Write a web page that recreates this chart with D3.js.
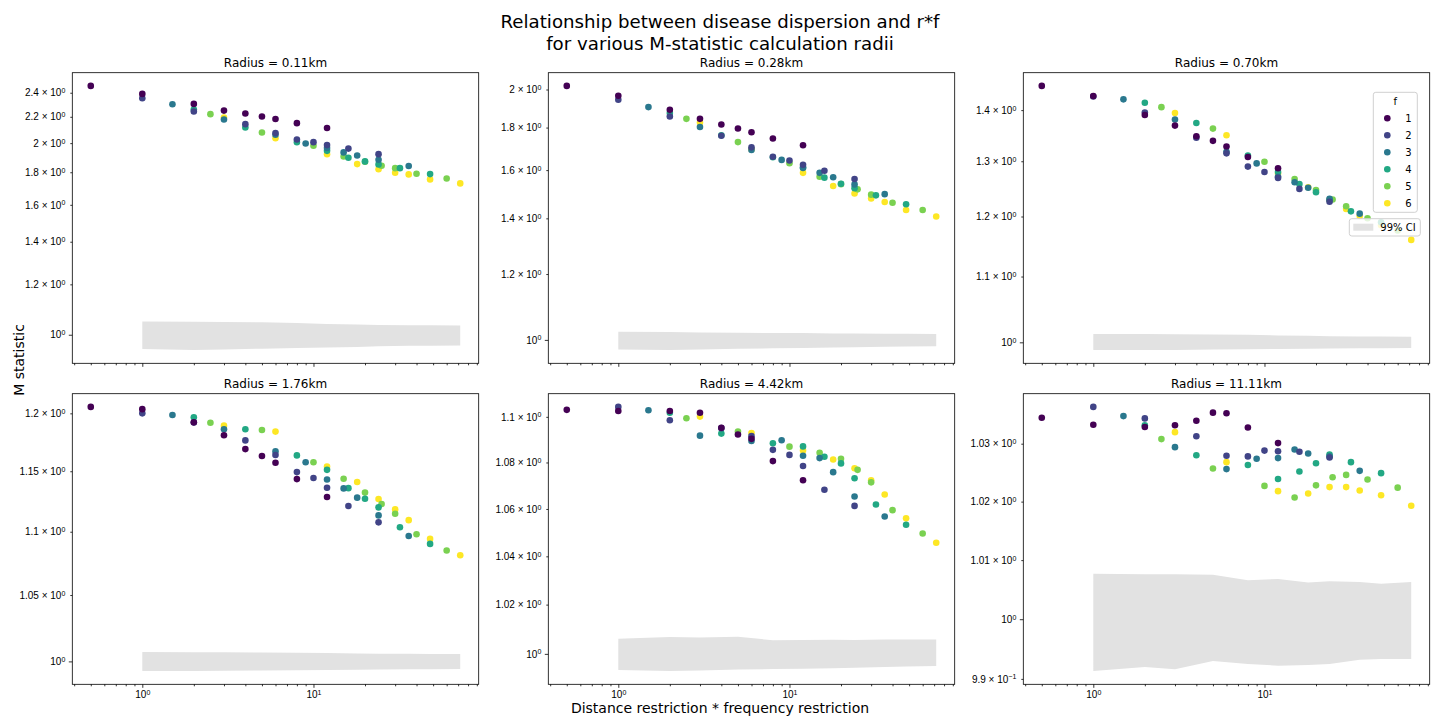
<!DOCTYPE html>
<html>
<head>
<meta charset="UTF-8">
<style>
body { margin: 0; background: #fff; }
svg { font-family: "DejaVu Sans", sans-serif; }
.tick text { font-size: 10px; fill: #000; }
.tick line { stroke: #000; stroke-width: 0.8; }
.domain { display: none; }
</style>
</head>
<body>
<svg width="1440" height="720"></svg>
<script src="https://d3js.org/d3.v7.min.js"></script>
<script>
// f (frequency restriction) and r (distance restriction) values, x = r*f
var fVals = [1, 2, 3, 4, 5, 6];
var rVals = [0.5, 1, 2, 3, 4, 5, 6, 8, 12];
var radii = ["0.11", "0.28", "0.70", "1.76", "4.42", "11.11"];

// M statistic, one row per f, one column per r
var m011 = [
    [2.46, 2.39, 2.305, 2.25, 2.226, 2.202, 2.182, 2.150, 2.113],
    [2.353, 2.242, 2.142, 2.074, 2.027, 2.007, 1.986, 1.961, 1.922],
    [2.302, 2.179, 2.062, 1.997, 1.965, 1.934, 1.913, 1.883, 1.841],
    [2.258, 2.116, 2.007, 1.945, 1.897, 1.872, 1.852, 1.827, 1.788],
    [2.221, 2.078, 1.981, 1.906, 1.87, 1.843, 1.827, 1.79, 1.760],
    [2.194, 2.036, 1.922, 1.854, 1.82, 1.797, 1.786, 1.754, 1.729]
];
var m028 = [
    [2.020, 1.966, 1.891, 1.844, 1.815, 1.795, 1.777, 1.746, 1.714],
    [1.944, 1.856, 1.760, 1.704, 1.660, 1.643, 1.624, 1.597, 1.561],
    [1.905, 1.803, 1.692, 1.646, 1.610, 1.588, 1.569, 1.538, 1.497],
    [1.874, 1.762, 1.658, 1.610, 1.567, 1.541, 1.522, 1.492, 1.456],
    [1.844, 1.729, 1.631, 1.571, 1.539, 1.517, 1.495, 1.462, 1.433],
    [1.825, 1.695, 1.588, 1.531, 1.500, 1.479, 1.465, 1.433, 1.407]
];
var m070 = [
    [1.450, 1.429, 1.390, 1.369, 1.348, 1.339, 1.328, 1.308, 1.287],
    [1.428, 1.395, 1.345, 1.315, 1.290, 1.280, 1.269, 1.249, 1.226],
    [1.422, 1.381, 1.318, 1.296, 1.271, 1.261, 1.251, 1.231, 1.205],
    [1.415, 1.374, 1.311, 1.280, 1.258, 1.243, 1.229, 1.209, 1.190],
    [1.406, 1.363, 1.299, 1.267, 1.247, 1.230, 1.218, 1.197, 1.176],
    [1.394, 1.350, 1.277, 1.252, 1.229, 1.213, 1.201, 1.185, 1.160]
];
var m176 = [
    [1.2057, 1.2037, 1.1921, 1.1809, 1.1689, 1.1630, 1.1572, 1.1434, 1.1285],
    [1.2000, 1.1920, 1.1764, 1.1638, 1.1493, 1.1443, 1.1362, 1.1210, 1.1076],
    [1.1985, 1.1860, 1.1669, 1.1577, 1.1431, 1.1356, 1.1279, 1.1133, 1.0966],
    [1.1965, 1.1860, 1.1635, 1.1512, 1.1358, 1.1270, 1.1199, 1.1036, 1.0902],
    [1.1918, 1.1854, 1.1577, 1.1437, 1.1321, 1.1227, 1.1146, 1.0980, 1.0849],
    [1.1892, 1.1840, 1.1540, 1.1409, 1.1268, 1.1182, 1.1094, 1.0942, 1.0812]
];
var m442 = [
    [1.1031, 1.1026, 1.1026, 1.1018, 1.0952, 1.0922, 1.0903, 1.0806, 1.0723],
    [1.1044, 1.0985, 1.0950, 1.0915, 1.0855, 1.0833, 1.0785, 1.0682, 1.0613],
    [1.1029, 1.0917, 1.0894, 1.0897, 1.0829, 1.0819, 1.0758, 1.0653, 1.0568],
    [1.1018, 1.0926, 1.0884, 1.0870, 1.0825, 1.0796, 1.0732, 1.0619, 1.0533],
    [1.0994, 1.0935, 1.0869, 1.0842, 1.0816, 1.0768, 1.0714, 1.0595, 1.0496],
    [1.1001, 1.0929, 1.0852, 1.0813, 1.0775, 1.0723, 1.0662, 1.0560, 1.0457]
];
var m1111 = [
    [1.0345, 1.0333, 1.0329, 1.0332, 1.0340, 1.0354, 1.0353, 1.0328, 1.0301],
    [1.0364, 1.0344, 1.0313, 1.0279, 1.0278, 1.0288, 1.0287, 1.0286, 1.0276],
    [1.0348, 1.0294, 1.0256, 1.0274, 1.0275, 1.0290, 1.0283, 1.0278, 1.0253],
    [1.0332, 1.0280, 1.0263, 1.0239, 1.0252, 1.0266, 1.0281, 1.0268, 1.0249],
    [1.0308, 1.0257, 1.0227, 1.0207, 1.0228, 1.0242, 1.0246, 1.0238, 1.0224],
    [1.0320, 1.0268, 1.0218, 1.0214, 1.0225, 1.0225, 1.0219, 1.0211, 1.0193]
];

// 99% CI band of the null model
var bandX = [1, 2, 3, 5, 8, 12, 18, 24, 36, 48, 72];
var ci011Lo = [0.950, 0.946, 0.948, 0.951, 0.953, 0.955, 0.957, 0.959, 0.961, 0.961, 0.962];
var ci011Hi = [1.049, 1.048, 1.047, 1.046, 1.043, 1.040, 1.038, 1.036, 1.035, 1.035, 1.034];
var ci028Lo = [0.9737, 0.9722, 0.974, 0.976, 0.977, 0.978, 0.979, 0.980, 0.981, 0.982, 0.9827];
var ci028Hi = [1.0225, 1.022, 1.021, 1.020, 1.019, 1.019, 1.018, 1.018, 1.017, 1.017, 1.0167];
var ci070Lo = [0.989, 0.9888, 0.989, 0.9895, 0.990, 0.9905, 0.9908, 0.991, 0.9913, 0.9915, 0.9918];
var ci070Hi = [1.0121, 1.012, 1.0118, 1.0114, 1.011, 1.010, 1.0095, 1.009, 1.0086, 1.0084, 1.0082];
var ci176Lo = [0.9929, 0.9930, 0.9931, 0.9933, 0.9935, 0.9937, 0.9939, 0.9940, 0.9942, 0.9943, 0.9944];
var ci176Hi = [1.0069, 1.0068, 1.0067, 1.0065, 1.0063, 1.0061, 1.0059, 1.0057, 1.0056, 1.0055, 1.0054];
var ci442Lo = [0.9935, 0.9931, 0.9933, 0.9937, 0.9939, 0.9940, 0.9942, 0.9944, 0.9947, 0.9949, 0.9951];
var ci442Hi = [1.0061, 1.0068, 1.0066, 1.0069, 1.0055, 1.0056, 1.0057, 1.0056, 1.0058, 1.0058, 1.0058];
var ci1111Lo = [0.9913, 0.9920, 0.9916, 0.9930, 0.9925, 0.9922, 0.9923, 0.9925, 0.9932, 0.9933, 0.9933];
var ci1111Hi = [1.0077, 1.0076, 1.0076, 1.0075, 1.0066, 1.0068, 1.0062, 1.0064, 1.0063, 1.0060, 1.0063];

// y tick values per panel
var yt011 = [1, 1.2, 1.4, 1.6, 1.8, 2, 2.2, 2.4];
var yt028 = [1, 1.2, 1.4, 1.6, 1.8, 2];
var yt070 = [1, 1.1, 1.2, 1.3, 1.4];
var yt176 = [1, 1.05, 1.1, 1.15, 1.2];
var yt442 = [1, 1.02, 1.04, 1.06, 1.08, 1.1];
var yt1111 = [0.99, 1, 1.01, 1.02, 1.03];

var xMajor = [1, 10];
var xMinor = [0.4, 0.5, 0.6, 0.7, 0.8, 0.9, 2, 3, 4, 5, 6, 7, 8, 9, 20, 30, 40, 50, 60, 70, 80, 90];

var panels = [
    { m: m011, lo: ci011Lo, hi: ci011Hi, yt: yt011 },
    { m: m028, lo: ci028Lo, hi: ci028Hi, yt: yt028 },
    { m: m070, lo: ci070Lo, hi: ci070Hi, yt: yt070 },
    { m: m176, lo: ci176Lo, hi: ci176Hi, yt: yt176 },
    { m: m442, lo: ci442Lo, hi: ci442Hi, yt: yt442 },
    { m: m1111, lo: ci1111Lo, hi: ci1111Hi, yt: yt1111 }
];

var svg = d3.select("svg");
var color = d3.scaleSequential(d3.interpolateViridis).domain([1, 6]);

var lefts = [72.3, 548.3, 1023.3], tops = [72.7, 393.7];
var W = 406.4, H = 290.6;

// matplotlib style 5% margin in log space
function logPad(ext) {
    var a = Math.log10(ext[0]), b = Math.log10(ext[1]), p = (b - a) * 0.05;
    return [Math.pow(10, a - p), Math.pow(10, b + p)];
}

var allX = [];
fVals.forEach(function(f) { rVals.forEach(function(r) { allX.push(r * f); }); });
var xDom = logPad(d3.extent(allX.concat(bandX)));

var supMap = { "0": "0", "1": "1", "-1": "\u22121" };

function labelParts(v) {
    var e = Math.floor(Math.log10(v) + 1e-9);
    var mant = +(v / Math.pow(10, e)).toFixed(3);
    var base = (mant === 1) ? "10" : (d3.format("~g")(mant) + " \u00d7 10");
    return [base, supMap[String(e)]];
}

function putLabel(sel, v) {
    var p = labelParts(v);
    sel.text(p[0]);
    sel.append("tspan").attr("dy", "-0.45em").attr("font-size", "7px").text(p[1]);
}

panels.forEach(function(p, i) {
    var col = i % 3, row = Math.floor(i / 3);
    var g = svg.append("g").attr("transform", "translate(" + lefts[col] + "," + tops[row] + ")");

    var pts = [];
    rVals.forEach(function(r, ri) {
        fVals.forEach(function(f, fi) {
            pts.push({ x: r * f, y: p.m[fi][ri], f: f });
        });
    });
    var yVals = pts.map(function(d) { return d.y; }).concat(p.lo, p.hi);
    var x = d3.scaleLog().domain(xDom).range([0, W]);
    var y = d3.scaleLog().domain(logPad(d3.extent(yVals))).range([H, 0]);

    var band = bandX.map(function(bx, k) { return { x: bx, lo: p.lo[k], hi: p.hi[k] }; });
    g.append("path")
        .datum(band)
        .attr("fill", "#e2e2e2")
        .attr("d", d3.area()
            .x(function(d) { return x(d.x); })
            .y0(function(d) { return y(d.lo); })
            .y1(function(d) { return y(d.hi); }));

    g.selectAll("circle")
        .data(pts)
        .enter().append("circle")
        .attr("cx", function(d) { return x(d.x); })
        .attr("cy", function(d) { return y(d.y); })
        .attr("r", 3.3)
        .attr("fill", function(d) { return color(d.f); });

    // x ticks
    var xa = g.append("g").attr("transform", "translate(0," + H + ")");
    xa.call(d3.axisBottom(x).tickValues(xMinor).tickSize(2).tickFormat(""));
    var xm = g.append("g").attr("transform", "translate(0," + H + ")")
        .call(d3.axisBottom(x).tickValues(xMajor).tickSize(3.5).tickPadding(3.5).tickFormat(""));
    if (row === 1) {
        xm.selectAll(".tick text").each(function(v) { putLabel(d3.select(this), v); });
    }

    // y ticks
    var ya = g.append("g").call(d3.axisLeft(y).tickValues(p.yt).tickSize(3.5).tickPadding(3.5).tickFormat(""));
    ya.selectAll(".tick line").attr("x2", function(v) { return (v === 1) ? -3.5 : -2; });
    ya.selectAll(".tick text").each(function(v) { putLabel(d3.select(this), v); });

    g.append("rect")
        .attr("width", W).attr("height", H)
        .attr("fill", "none").attr("stroke", "#000").attr("stroke-width", 0.8);

    g.append("text")
        .attr("x", W / 2).attr("y", -6)
        .attr("text-anchor", "middle")
        .attr("font-size", "12px")
        .text("Radius = " + radii[i] + "km");
});

// legends on the third panel
var lg = svg.append("g").attr("transform", "translate(1373.3,92.3)");
lg.append("rect").attr("width", 44).attr("height", 120).attr("rx", 2.5)
    .attr("fill", "#fff").attr("fill-opacity", 0.8).attr("stroke", "#d0d0d0");
lg.append("text").attr("x", 22).attr("y", 13).attr("text-anchor", "middle")
    .attr("font-size", "10px").text("f");
fVals.forEach(function(f, k) {
    lg.append("circle").attr("cx", 14).attr("cy", 26 + 17 * k).attr("r", 3.3).attr("fill", color(f));
    lg.append("text").attr("x", 32).attr("y", 29.5 + 17 * k).attr("font-size", "10px").text(f);
});

var cg = svg.append("g").attr("transform", "translate(1349.3,218.7)");
cg.append("rect").attr("width", 71).attr("height", 17.3).attr("rx", 2.5)
    .attr("fill", "#fff").attr("fill-opacity", 0.8).attr("stroke", "#d0d0d0");
cg.append("rect").attr("x", 4).attr("y", 5).attr("width", 20).attr("height", 7).attr("fill", "#e2e2e2");
cg.append("text").attr("x", 31).attr("y", 12.5).attr("font-size", "10px").text("99% CI");

// figure titles and labels
svg.append("text").attr("x", 720).attr("y", 28).attr("text-anchor", "middle")
    .attr("font-size", "18.2px").text("Relationship between disease dispersion and r*f");
svg.append("text").attr("x", 720).attr("y", 50).attr("text-anchor", "middle")
    .attr("font-size", "18.2px").text("for various M-statistic calculation radii");
svg.append("text").attr("x", 720).attr("y", 713).attr("text-anchor", "middle")
    .attr("font-size", "14px").text("Distance restriction * frequency restriction");
svg.append("text").attr("transform", "translate(24,360) rotate(-90)").attr("text-anchor", "middle")
    .attr("font-size", "14px").text("M statistic");
</script>
</body>
</html>
